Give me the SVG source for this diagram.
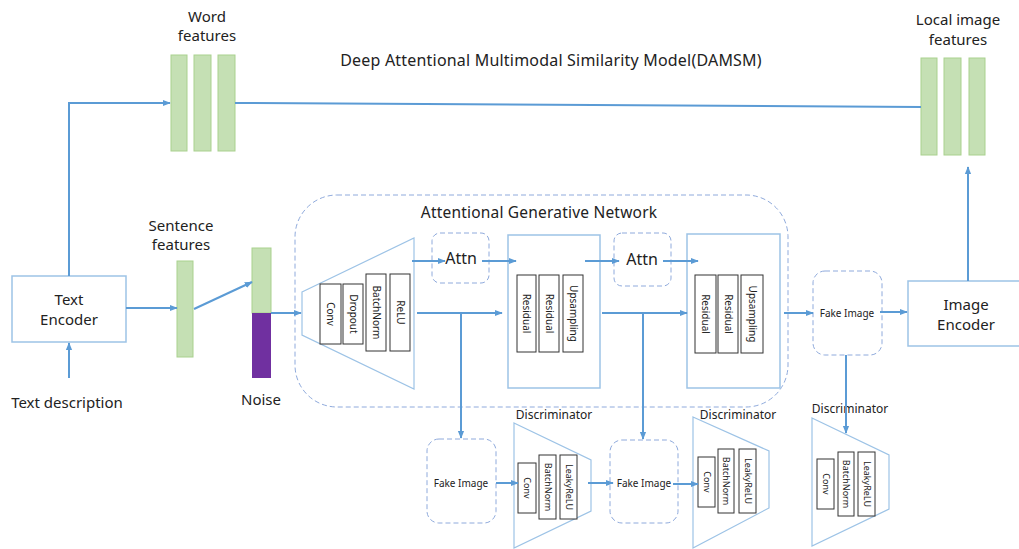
<svg xmlns="http://www.w3.org/2000/svg" width="1019" height="549" viewBox="0 0 1019 549">
<style>
text{font-family:"Noto Sans","Open Sans","DejaVu Sans",sans-serif;fill:#222}
.t15{font-size:15px;text-anchor:middle}
.t12{font-size:12px;text-anchor:middle}
.t10{font-size:10px;text-anchor:middle}
.t9{font-size:9px;text-anchor:middle}
.bar{fill:#C5E0B4;stroke:#A9D18E;stroke-width:1}
.box{fill:#fff;stroke:#9DC3E6;stroke-width:1.5}
.inner{fill:#fff;stroke:#333;stroke-width:1}
.dash{fill:#fff;stroke:#8FAADC;stroke-width:1;stroke-dasharray:5 3}
.trap{fill:#fff;stroke:#9DC3E6;stroke-width:1.2}
.conn{fill:none;stroke:#5B9BD5;stroke-width:2}
</style>
<defs>
<marker id="ah" viewBox="0 0 10 10" refX="9" refY="5" markerWidth="8" markerHeight="8" markerUnits="userSpaceOnUse" orient="auto">
<path d="M0,1 L10,5 L0,9 z" fill="#5B9BD5"/>
</marker>
</defs>
<rect width="1019" height="549" fill="#fff"/>

<text x="551" y="66" style="font-size:16px;text-anchor:middle;letter-spacing:0.2px">Deep Attentional Multimodal Similarity Model(DAMSM)</text>

<g id="word-features">
<text class="t15" x="207" y="22">Word</text>
<text class="t15" x="207" y="41">features</text>
<rect class="bar" x="171" y="55" width="16" height="96"/>
<rect class="bar" x="194" y="55" width="17" height="96"/>
<rect class="bar" x="218" y="55" width="17" height="96"/>
</g>

<g id="local-image-features">
<text class="t15" x="958" y="25">Local image</text>
<text class="t15" x="958" y="45">features</text>
<rect class="bar" x="921" y="58" width="16" height="97"/>
<rect class="bar" x="944" y="58" width="17" height="97"/>
<rect class="bar" x="969" y="58" width="16" height="97"/>
</g>

<g id="text-encoder">
<rect class="box" x="12" y="276" width="114" height="66"/>
<text class="t15" x="69" y="305">Text</text>
<text class="t15" x="69" y="325">Encoder</text>
</g>
<g id="text-description">
<text class="t15" x="67" y="408">Text description</text>
</g>

<g id="sentence-features">
<text class="t15" x="181" y="231">Sentence</text>
<text class="t15" x="181" y="250">features</text>
<rect class="bar" x="177" y="261" width="16" height="96"/>
</g>

<g id="noise">
<rect class="bar" x="252" y="248" width="19" height="65"/>
<rect x="252" y="313" width="19" height="65" fill="#7030A0"/>
<text class="t15" x="261" y="405">Noise</text>
</g>

<g id="generative-network">
<rect x="295" y="195" width="493" height="212" rx="42" fill="none" stroke="#8FAADC" stroke-width="1" stroke-dasharray="5 3"/>
<text x="539" y="218" style="font-size:15.5px;text-anchor:middle;letter-spacing:0.2px">Attentional Generative Network</text>
</g>

<g id="generator-init">
<polygon class="trap" points="302,292 414,238 414,389 302,335"/>
<rect class="inner" x="320" y="284" width="21" height="60"/>
<text class="t10" transform="translate(330.5,314) rotate(90)" y="3.5">Conv</text>
<rect class="inner" x="343" y="284" width="20" height="60"/>
<text class="t10" transform="translate(353,314) rotate(90)" y="3.5">Dropout</text>
<rect class="inner" x="366" y="274" width="20" height="77"/>
<text class="t10" transform="translate(376,312.5) rotate(90)" y="3.5">BatchNorm</text>
<rect class="inner" x="390" y="274" width="20" height="77"/>
<text class="t10" transform="translate(400,312.5) rotate(90)" y="3.5">ReLU</text>
</g>

<g id="attn1">
<rect class="dash" x="432" y="233" width="57" height="50" rx="8"/>
<text x="461" y="264" style="font-size:16px;text-anchor:middle">Attn</text>
</g>

<g id="block1">
<rect class="box" x="508" y="235" width="92" height="153"/>
<rect class="inner" x="517" y="275" width="19" height="77"/>
<text class="t10" transform="translate(526.5,313.5) rotate(90)" y="3.5">Residual</text>
<rect class="inner" x="539" y="275" width="20" height="77"/>
<text class="t10" transform="translate(549,313.5) rotate(90)" y="3.5">Residual</text>
<rect class="inner" x="563" y="275" width="20" height="77"/>
<text class="t10" transform="translate(573,313.5) rotate(90)" y="3.5">Upsampling</text>
</g>

<g id="attn2">
<rect class="dash" x="614" y="233" width="57" height="53" rx="8"/>
<text x="642" y="265" style="font-size:16px;text-anchor:middle">Attn</text>
</g>

<g id="block2">
<rect class="box" x="687" y="234" width="93" height="154"/>
<rect class="inner" x="695" y="275" width="21" height="78"/>
<text class="t10" transform="translate(705.5,314) rotate(90)" y="3.5">Residual</text>
<rect class="inner" x="718" y="275" width="20" height="78"/>
<text class="t10" transform="translate(728,314) rotate(90)" y="3.5">Residual</text>
<rect class="inner" x="741" y="275" width="22" height="78"/>
<text class="t10" transform="translate(752,314) rotate(90)" y="3.5">Upsampling</text>
</g>

<g id="fake-image-3">
<rect class="dash" x="813" y="271" width="69" height="84" rx="12"/>
<text class="t10" x="847" y="317">Fake Image</text>
</g>

<g id="image-encoder">
<rect class="box" x="908" y="281" width="120" height="65"/>
<text class="t15" x="966" y="310">Image</text>
<text class="t15" x="966" y="330">Encoder</text>
</g>

<g id="fake-image-1">
<rect class="dash" x="427" y="439" width="69" height="84" rx="12"/>
<text class="t10" x="461" y="487">Fake Image</text>
</g>

<g id="discriminator-1">
<text class="t12" x="554" y="419">Discriminator</text>
<polygon class="trap" points="514,423 591,460 591,511 514,548"/>
<rect class="inner" x="518" y="463" width="18" height="50"/>
<text class="t9" transform="translate(527,488) rotate(90)" y="3">Conv</text>
<rect class="inner" x="539" y="455" width="17" height="64"/>
<text class="t9" transform="translate(547.5,487) rotate(90)" y="3">BatchNorm</text>
<rect class="inner" x="560" y="455" width="17" height="64"/>
<text class="t9" transform="translate(568.5,487) rotate(90)" y="3">LeakyReLU</text>
</g>

<g id="fake-image-2">
<rect class="dash" x="610" y="440" width="68" height="83" rx="12"/>
<text class="t10" x="644" y="487">Fake Image</text>
</g>

<g id="discriminator-2">
<text class="t12" x="738" y="419">Discriminator</text>
<polygon class="trap" points="693,417 769,451 769,508 693,548"/>
<rect class="inner" x="698" y="457" width="17" height="50"/>
<text class="t9" transform="translate(706.5,482) rotate(90)" y="3">Conv</text>
<rect class="inner" x="718" y="449" width="16" height="64"/>
<text class="t9" transform="translate(726,481) rotate(90)" y="3">BatchNorm</text>
<rect class="inner" x="739" y="449" width="17" height="64"/>
<text class="t9" transform="translate(747.5,481) rotate(90)" y="3">LeakyReLU</text>
</g>

<g id="discriminator-3">
<text class="t12" x="850" y="413">Discriminator</text>
<polygon class="trap" points="812,418 889,455 889,509 812,546"/>
<rect class="inner" x="817" y="459" width="17" height="50"/>
<text class="t9" transform="translate(825.5,484) rotate(90)" y="3">Conv</text>
<rect class="inner" x="838" y="452" width="16" height="64"/>
<text class="t9" transform="translate(846,484) rotate(90)" y="3">BatchNorm</text>
<rect class="inner" x="858" y="452" width="17" height="64"/>
<text class="t9" transform="translate(866.5,484) rotate(90)" y="3">LeakyReLU</text>
</g>

<g id="connectors">
<path class="conn" d="M69,276 V103 H170" marker-end="url(#ah)"/>
<path class="conn" d="M235,103 L921,107"/>
<path class="conn" d="M69,378 V343" marker-end="url(#ah)"/>
<path class="conn" d="M126,308 H177" marker-end="url(#ah)"/>
<path class="conn" d="M194,309 L252,282" marker-end="url(#ah)"/>
<path class="conn" d="M271,313 H301" marker-end="url(#ah)"/>
<path class="conn" d="M412,261 H445" marker-end="url(#ah)"/>
<path class="conn" d="M482,261 H516" marker-end="url(#ah)"/>
<path class="conn" d="M417,313 H502" marker-end="url(#ah)"/>
<path class="conn" d="M461,313 V438" marker-end="url(#ah)"/>
<path class="conn" d="M585,261 H619" marker-end="url(#ah)"/>
<path class="conn" d="M663,261 H698" marker-end="url(#ah)"/>
<path class="conn" d="M602,313 H687" marker-end="url(#ah)"/>
<path class="conn" d="M643,313 V439" marker-end="url(#ah)"/>
<path class="conn" d="M784,313 H813" marker-end="url(#ah)"/>
<path class="conn" d="M880,312 H907" marker-end="url(#ah)"/>
<path class="conn" d="M968,281 V167" marker-end="url(#ah)"/>
<path class="conn" d="M846,355 V433" marker-end="url(#ah)"/>
<path class="conn" d="M496,483 H518" marker-end="url(#ah)"/>
<path class="conn" d="M588,483 H613" marker-end="url(#ah)"/>
<path class="conn" d="M673,484 H698" marker-end="url(#ah)"/>
</g>
</svg>
